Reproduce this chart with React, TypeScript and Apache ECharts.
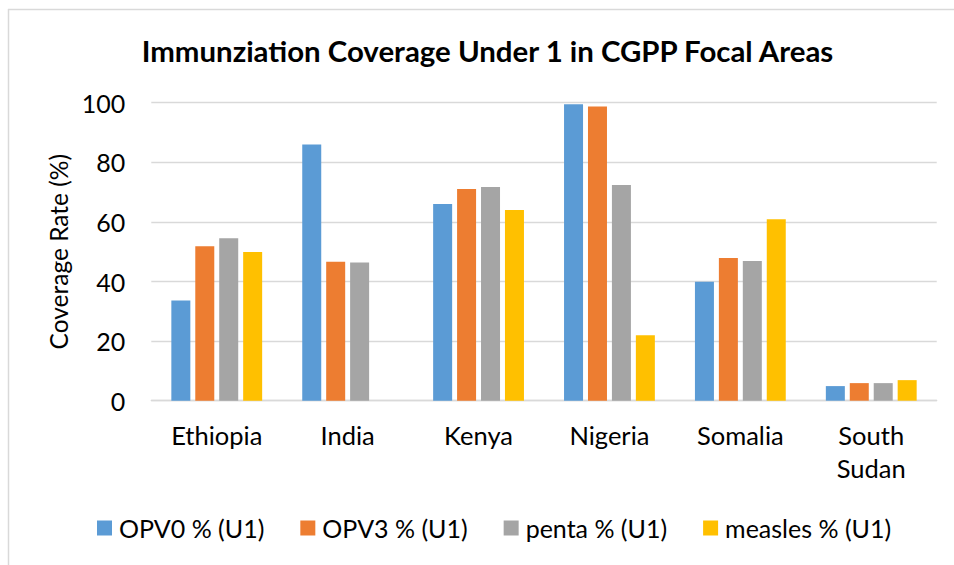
import React, { useEffect, useRef } from "react";
import * as echarts from "echarts";

const title = "Immunziation Coverage Under 1 in CGPP Focal Areas";
const yAxisName = "Coverage Rate (%)";
const categories = ["Ethiopia", "India", "Kenya", "Nigeria", "Somalia", "South Sudan"];
const seriesNames = ["OPV0 % (U1)", "OPV3 % (U1)", "penta % (U1)", "measles % (U1)"];
const opv0 = [33.6, 86.0, 66.0, 99.5, 39.9, 4.9];
const opv3 = [51.8, 46.6, 71.0, 98.7, 47.9, 5.9];
const penta = [54.5, 46.4, 71.7, 72.4, 46.9, 5.9];
const measles: (number | null)[] = [49.9, null, 64.0, 22.0, 60.9, 6.9];
const colors = ["#5B9BD5", "#ED7D31", "#A5A5A5", "#FFC000"];

const FONT = "Lato";

export default function App() {
  const ref = useRef<HTMLDivElement>(null);
  useEffect(() => {
    if (!ref.current) return;
    const chart = echarts.init(ref.current, undefined, { renderer: "svg" });
    const values = [opv0, opv3, penta, measles];
    chart.setOption({
      animation: false,
      backgroundColor: "#ffffff",
      color: colors,
      textStyle: { fontFamily: FONT },
      title: {
        text: title,
        left: 482.5,
        textAlign: "center",
        top: 31,
        textStyle: { fontFamily: FONT, fontWeight: "bold", fontSize: 29.4, color: "#000" },
      },
      graphic: [
        { type: "line", shape: { x1: 8.5, y1: 9, x2: 8.5, y2: 565 }, style: { stroke: "#d9d9d9", lineWidth: 1.5 } },
        { type: "line", shape: { x1: 8, y1: 9.5, x2: 954, y2: 9.5 }, style: { stroke: "#d9d9d9", lineWidth: 1.5 } },
      ],
      legend: {
        left: 92,
        top: 508,
        itemWidth: 15,
        itemHeight: 15,
        itemGap: 36,
        icon: "rect",
        data: seriesNames,
        textStyle: { fontFamily: FONT, fontSize: 25, color: "#000", lineHeight: 30, padding: [0, 0, 0, 2] },
      },
      grid: { left: 151.3, right: 954 - 936.7, top: 102.7, bottom: 565 - 400.7, containLabel: false },
      xAxis: {
        type: "category",
        data: categories,
        axisLine: { show: true, lineStyle: { color: "#d9d9d9", width: 1.3 } },
        axisTick: { show: false },
        axisLabel: {
          interval: 0,
          margin: 18,
          fontFamily: FONT,
          fontSize: 25.5,
          lineHeight: 33,
          color: "#000",
          formatter: (v: string) => v.replace(" ", "\n"),
        },
      },
      yAxis: {
        type: "value",
        min: 0,
        max: 100,
        interval: 20,
        name: yAxisName,
        nameLocation: "middle",
        nameGap: 79,
        nameTextStyle: { fontFamily: FONT, fontSize: 24.5, color: "#000" },
        axisLine: { show: false },
        axisTick: { show: false },
        axisLabel: { margin: 26, fontFamily: FONT, fontSize: 25, color: "#000" },
        splitLine: { lineStyle: { color: "#d9d9d9", width: 1.3 } },
      },
      series: seriesNames.map((name, i) => ({
        name,
        type: "bar",
        data: values[i],
        barWidth: 19,
        barGap: "26%",
        itemStyle: { color: colors[i] },
      })),
    });
    return () => chart.dispose();
  }, []);
  return (
    <div
      ref={ref}
      style={{ position: "fixed", left: 0, top: 0, width: 954, height: 565 }}
    />
  );
}
